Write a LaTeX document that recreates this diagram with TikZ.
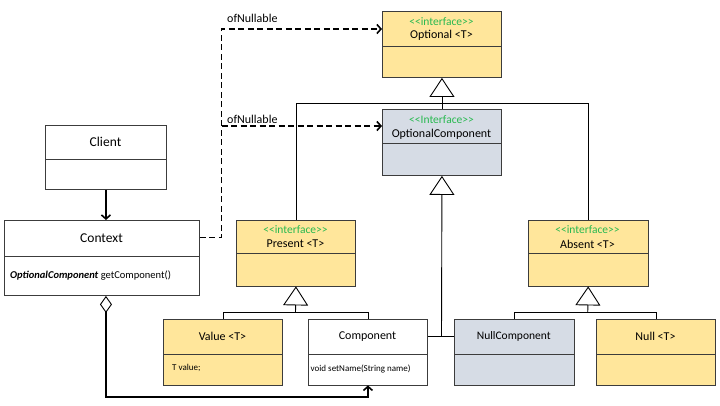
\documentclass[tikz,border=0pt]{standalone}
\usepackage{fontspec}
\setmainfont{Carlito}
\usetikzlibrary{arrows.meta,calc}
\definecolor{yel}{RGB}{255,230,155}
\definecolor{gry}{RGB}{214,220,229}
\definecolor{stgreen}{RGB}{40,185,80}
\definecolor{edge}{RGB}{60,60,60}
\tikzset{
  umlbox/.style={draw=edge, line width=0.9pt, rectangle, inner sep=0pt, anchor=north west},
  divline/.style={draw=edge, line width=0.9pt},
  stereo/.style={text=stgreen, font=\fontsize{11.5}{13}\selectfont, inner sep=0pt},
  cname/.style={font=\fontsize{12}{14}\selectfont, inner sep=0pt},
  bigname/.style={font=\fontsize{13.5}{15}\selectfont, inner sep=0pt},
  member/.style={font=\fontsize{9}{11}\selectfont, inner sep=0pt, anchor=west},
  gen/.style={draw=black, line width=0.9pt, -{Triangle[open, width=25pt, length=19pt, line width=0.9pt]}},
  genline/.style={draw=black, line width=0.9pt},
  depend/.style={draw=black, line width=1.9pt, dash pattern=on 6pt off 3.5pt, -{Straight Barb[length=4pt, width=9pt, line width=1.6pt]}},
  assoc/.style={draw=black, line width=1.8pt, -{Straight Barb[length=4pt, width=9pt, line width=1.6pt]}},
  aggr/.style={draw=black, line width=1.8pt, {Diamond[open, length=17pt, width=12pt, line width=0.9pt]}-{Straight Barb[length=4pt, width=9pt, line width=1.6pt]}},
  lbl/.style={font=\fontsize{12}{14}\selectfont, inner sep=0pt, anchor=west}
}
\begin{document}
\begin{tikzpicture}[x=1pt,y=-1pt]
\useasboundingbox (0,0) rectangle (720,405);

% Optional <T>
\node[umlbox, fill=yel, minimum width=119pt, minimum height=66pt] (opt) at (382,11) {};
\draw[divline] (382,46) -- (501,46);
\node[stereo] (optst) at (441.5,22) {{<}{<}interface{>}{>}};
\node[cname] (optnm) at (441.5,35.5) {Optional {<}T{>}};

% OptionalComponent
\node[umlbox, fill=gry, minimum width=119pt, minimum height=66pt] (ocomp) at (382,109) {};
\draw[divline] (382,143) -- (501,143);
\node[stereo] (ocst) at (441.5,120) {{<}{<}Interface{>}{>}};
\node[cname] (ocnm) at (441.5,134) {OptionalComponent};

% Client
\node[umlbox, fill=white, minimum width=121pt, minimum height=64pt] (client) at (45,125) {};
\draw[divline] (45,159) -- (166,159);
\node[bigname] (clnm) at (105.5,142) {Client};

% Context
\node[umlbox, fill=white, minimum width=195pt, minimum height=75pt] (context) at (4,220) {};
\draw[divline] (4,256) -- (199,256);
\node[bigname] (ctnm) at (101.5,238) {Context};
\node[member, font=\fontsize{10.5}{12}\selectfont] (ctm) at (10,276) {\textbf{\textit{OptionalComponent}} getComponent()};

% Present <T>
\node[umlbox, fill=yel, minimum width=119pt, minimum height=66pt] (pres) at (236,219.5) {};
\draw[divline] (236,253.5) -- (355,253.5);
\node[stereo] (prst) at (295.5,230) {{<}{<}interface{>}{>}};
\node[cname] (prnm) at (295.5,244) {Present {<}T{>}};

% Absent <T>
\node[umlbox, fill=yel, minimum width=119.5pt, minimum height=66pt] (abs) at (528,219.5) {};
\draw[divline] (528,253.5) -- (647.5,253.5);
\node[stereo] (abst) at (587.5,230) {{<}{<}interface{>}{>}};
\node[cname] (abnm) at (587.5,244) {Absent {<}T{>}};

% Value <T>
\node[umlbox, fill=yel, minimum width=119pt, minimum height=66pt] (val) at (163,318.5) {};
\draw[divline] (163,354.5) -- (282,354.5);
\node[cname] (vlnm) at (222.5,336.5) {Value {<}T{>}};
\node[member] (vlm) at (172,367.5) {T value;};

% Component
\node[umlbox, fill=white, minimum width=119pt, minimum height=66pt] (comp) at (308,318.5) {};
\draw[divline] (308,354.5) -- (427,354.5);
\node[cname] (cpnm) at (367.5,336.5) {Component};
\node[member] (cpm) at (310.5,368.5) {void setName(String name)};

% NullComponent
\node[umlbox, fill=gry, minimum width=119.5pt, minimum height=66pt] (ncomp) at (454,318.5) {};
\draw[divline] (454,354.5) -- (573.5,354.5);
\node[cname, font=\fontsize{11.5}{13}\selectfont] (ncnm) at (513.75,336.5) {NullComponent};

% Null <T>
\node[umlbox, fill=yel, minimum width=119pt, minimum height=66pt] (null) at (596,318.5) {};
\draw[divline] (596,354.5) -- (715,354.5);
\node[cname] (nlnm) at (655.5,336.5) {Null {<}T{>}};

% generalizations to Optional
\coordinate (j1) at (441.5,103);
\draw[genline] (pres.north) |- (j1);
\draw[genline] (abs.north) |- (j1);
\draw[gen] (ocomp.north) -- (opt.south);

% generalizations to Present
\coordinate (j2) at (295.5,312.5);
\draw[genline] (val.north) |- (j2);
\draw[genline] (comp.north) |- (j2);
\draw[gen] (j2) -- (pres.south);

% generalizations to Absent
\coordinate (j3) at (587.75,312.5);
\draw[genline] (ncomp.north) |- (j3);
\draw[genline] (null.north) |- (j3);
\draw[gen] (j3) -- (abs.south);

% generalizations to OptionalComponent
\coordinate (j4) at (441.5,336.7);
\draw[genline] (comp.east |- j4) -- (j4);
\draw[genline] (ncomp.west |- j4) -- (j4);
\draw[gen] (j4) -- (ocomp.south);

% ofNullable dependencies
\coordinate (d0) at (221.5,237.5);
\draw[depend] (context.east |- d0) -- (d0) |- (opt.west |- 0,29);
\draw[depend] (221.5,126) -- (ocomp.west |- 0,126);
\node[lbl] (on1) at (227,18.5) {ofNullable};
\node[lbl] (on2) at (227,119) {ofNullable};

% Client -> Context
\draw[assoc] (client.south) -- (client.south |- context.north);

% aggregation Context <> -> Component
\draw[aggr] (client.south |- context.south) -- (client.south |- 0,397) -| (comp.south);

\end{tikzpicture}
\end{document}
